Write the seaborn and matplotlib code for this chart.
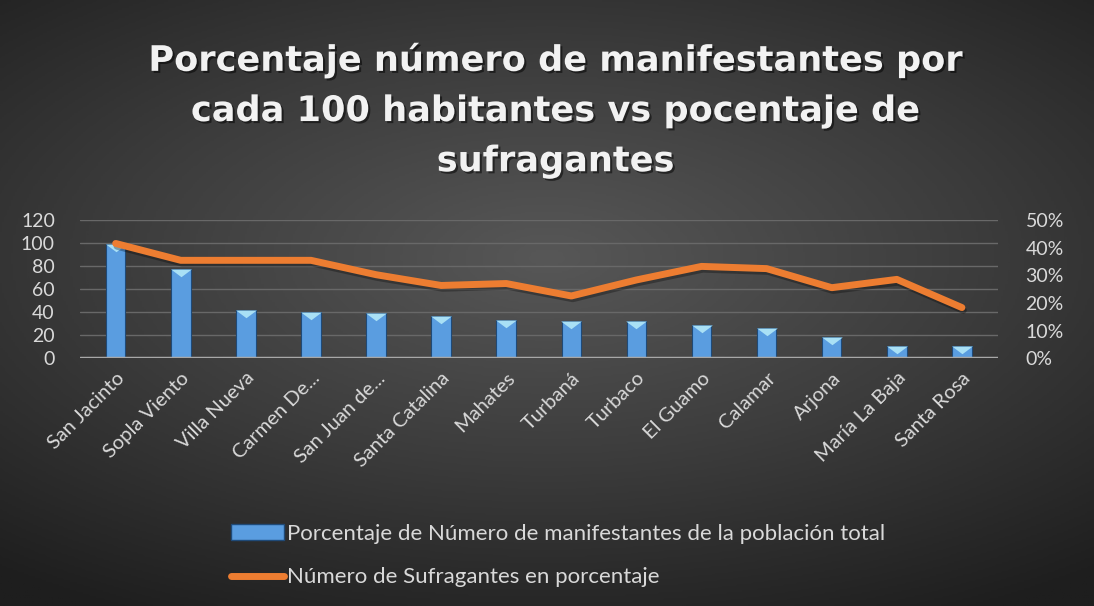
import numpy as np
import pandas as pd
import seaborn as sns
import matplotlib
matplotlib.use("Agg")
import matplotlib.pyplot as plt
import matplotlib.patheffects as pe
from matplotlib.colors import LinearSegmentedColormap
from matplotlib.lines import Line2D
from matplotlib.patches import Patch

municipios = ["San Jacinto", "Sopla Viento", "Villa Nueva", "Carmen De...", "San Juan de...",
              "Santa Catalina", "Mahates", "Turbaná", "Turbaco", "El Guamo", "Calamar",
              "Arjona", "María La Baja", "Santa Rosa"]
manifestantes = [99, 77, 42, 40.5, 39, 36.5, 33, 32, 32, 29, 26, 18.3, 10.4, 10.4]
sufragantes = [41.5, 35.4, 35.4, 35.4, 30.2, 26.3, 27, 22.5, 28.3, 33.2, 32.4, 25.5, 28.5, 18.3]

df = pd.DataFrame({"municipio": municipios, "manif": manifestantes, "sufr": sufragantes})

sns.set_theme(style="dark")
plt.rcParams["font.family"] = ["Lato", "DejaVu Sans"]
txt = "#d9d9d9"
azul = "#5a9de0"

fig = plt.figure(figsize=(10.94, 6.06), dpi=100)

# fondo gris oscuro con degradado radial
bg = fig.add_axes([0, 0, 1, 1], zorder=-10)
yy, xx = np.mgrid[-1:1:300j, -1:1:500j]
r = np.sqrt((xx * 0.85) ** 2 + ((yy + 0.15) * 1.0) ** 2)
fondo = LinearSegmentedColormap.from_list("fondo", ["#575757", "#3c3c3c", "#1e1e1e"])
bg.imshow(r, cmap=fondo, vmin=0, vmax=1.35, aspect="auto", extent=[0, 1, 0, 1])
bg.set_axis_off()

ax = fig.add_axes([0.073, 0.409, 0.839, 0.228])
ax.set_facecolor("none")
sns.barplot(data=df, x="municipio", y="manif", color=azul, width=0.3,
            saturation=1, edgecolor="#1f4a78", linewidth=0.8, ax=ax, zorder=3)
# bisel claro en la parte superior de cada barra
tri = [(-1, 0), (1, 0), (0, -0.75), (-1, 0)]
sns.scatterplot(data=df, x="municipio", y="manif", marker=tri, s=220, color="#a9e0f5",
                linewidth=0, ax=ax, zorder=4, legend=False)
ax.set_ylim(0, 120)
ax.set_yticks(range(0, 121, 20))
ax.grid(axis="y", color="#686868", linewidth=1)
ax.axhline(0, color="#a8a8a8", linewidth=2.5, zorder=5)
ax.set_xlabel("")
ax.set_ylabel("")
for s in ax.spines.values():
    s.set_visible(False)
ax.tick_params(axis="y", colors=txt, labelsize=14, length=0, pad=18)
ax.tick_params(axis="x", colors=txt, labelsize=14.5, length=0, pad=8)
ax.set_xticks(range(len(municipios)))
ax.set_xticklabels(municipios, rotation=45, ha="right", rotation_mode="anchor")
ax.set_xlim(-0.55, len(municipios) - 0.45)

ax2 = ax.twinx()
sns.lineplot(data=df, x="municipio", y="sufr", color="#ed7d31", linewidth=5, ax=ax2,
             sort=False, solid_capstyle="round",
             path_effects=[pe.SimpleLineShadow(offset=(1, -2), shadow_color="black", alpha=0.3),
                           pe.Normal()])
ax2.set_ylim(0, 50)
ax2.set_yticks(range(0, 51, 10))
ax2.set_yticklabels([f"{v}%" for v in range(0, 51, 10)])
ax2.tick_params(axis="y", colors=txt, labelsize=14, length=0, pad=20)
ax2.set_ylabel("")
ax2.set_xlabel("")
ax2.grid(False)
for s in ax2.spines.values():
    s.set_visible(False)

fig.text(0.508, 0.818, "Porcentaje número de manifestantes por\ncada 100 habitantes vs pocentaje de\nsufragantes",
         ha="center", va="center", color="#f2f2f2", fontsize=25.3, fontweight="bold",
         family=["DejaVu Sans"], linespacing=1.6,
         path_effects=[pe.SimplePatchShadow(offset=(1.5, -1.5), shadow_rgbFace="black", alpha=0.5),
                       pe.Normal()])

handles = [Patch(facecolor=azul, edgecolor="#1f4a78"),
           Line2D([0], [0], color="#ed7d31", linewidth=5, solid_capstyle="round")]
labels = ["Porcentaje de Número de manifestantes de la población total",
          "Número de Sufragantes en porcentaje"]
leg = fig.legend(handles, labels, loc="center left", bbox_to_anchor=(0.193, 0.083),
                 frameon=False, fontsize=16, labelcolor=txt, handlelength=2.4,
                 handletextpad=0.1, labelspacing=1.05, alignment="left")

fig.savefig("out.png", dpi=100)
